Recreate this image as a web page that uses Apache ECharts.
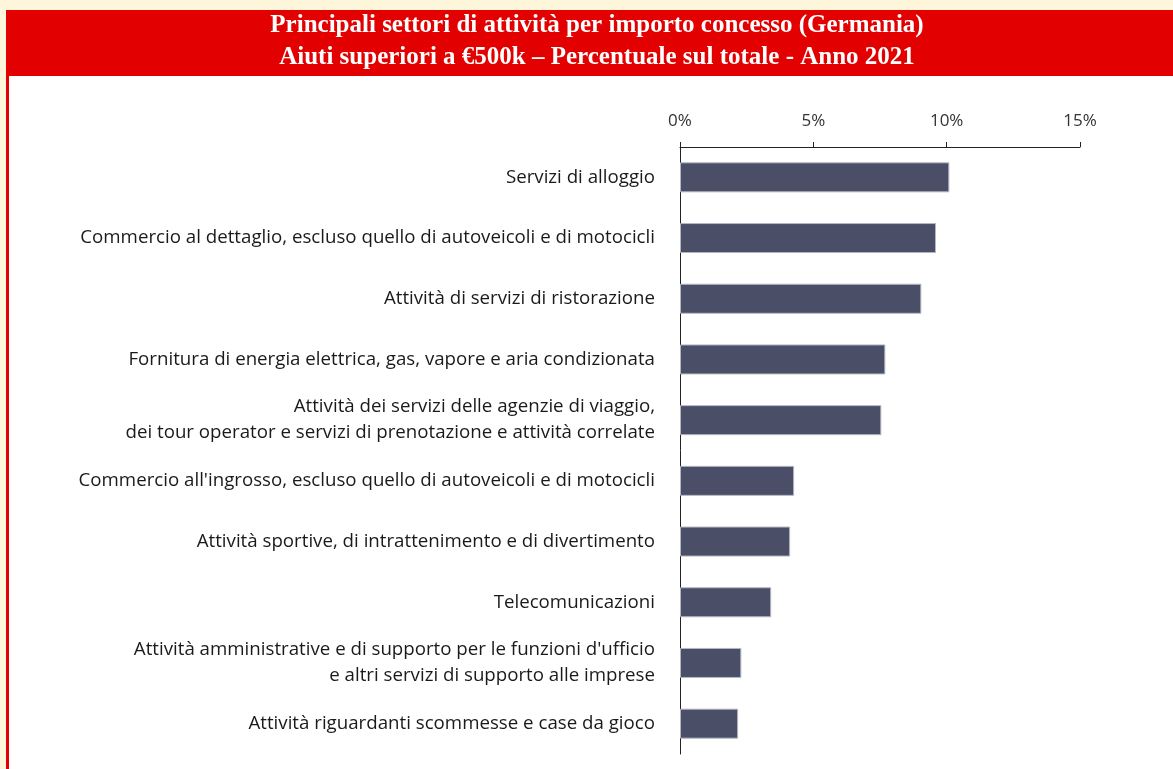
<!DOCTYPE html>
<html>
<head>
<meta charset="utf-8">
<script src="https://cdn.jsdelivr.net/npm/echarts@6/dist/echarts.min.js"></script>
<style>
  html, body { margin: 0; padding: 0; background: #fdf6da; }
  #main { width: 1173px; height: 769px; }
</style>
</head>
<body>
<div id="main"></div>
<script>
// settori (dall'alto verso il basso)
var settori = [
    'Servizi di alloggio',
    'Commercio al dettaglio, escluso quello di autoveicoli e di motocicli',
    'Attività di servizi di ristorazione',
    'Fornitura di energia elettrica, gas, vapore e aria condizionata',
    'Attività dei servizi delle agenzie di viaggio,\ndei tour operator e servizi di prenotazione e attività correlate',
    "Commercio all'ingrosso, escluso quello di autoveicoli e di motocicli",
    'Attività sportive, di intrattenimento e di divertimento',
    'Telecomunicazioni',
    "Attività amministrative e di supporto per le funzioni d'ufficio\ne altri servizi di supporto alle imprese",
    'Attività riguardanti scommesse e case da gioco'
];
// percentuale sul totale
var percentuali = [10.1, 9.6, 9.05, 7.7, 7.55, 4.28, 4.13, 3.42, 2.3, 2.18];
var tickAsse = [0, 5, 10, 15];

var myChart = echarts.init(document.getElementById('main'));

var option = {
    backgroundColor: '#fdf6da',
    animation: false,
    graphic: [
        // banda rossa del titolo
        { type: 'rect', shape: { x: 6, y: 10, width: 1167, height: 66 }, style: { fill: '#e30000' }, z: 0 },
        // bordo sinistro
        { type: 'rect', shape: { x: 6, y: 76, width: 3, height: 693 }, style: { fill: '#e30000' }, z: 0 },
        // pannello bianco
        { type: 'rect', shape: { x: 9, y: 76, width: 1164, height: 693 }, style: { fill: '#ffffff' }, z: 0 }
    ],
    title: {
        text: 'Principali settori di attività per importo concesso (Germania)\nAiuti superiori a €500k – Percentuale sul totale - Anno 2021',
        left: 592,
        textAlign: 'center',
        top: 5,
        textStyle: {
            color: '#ffffff',
            fontFamily: 'Liberation Serif',
            fontWeight: 'bold',
            fontSize: 25,
            lineHeight: 32
        }
    },
    grid: {
        left: 680,
        right: 93,
        top: 147,
        bottom: 15,
        containLabel: false
    },
    xAxis: {
        type: 'value',
        position: 'top',
        min: tickAsse[0],
        max: tickAsse[tickAsse.length - 1],
        interval: 5,
        axisLine: { show: true, lineStyle: { color: '#222', width: 1 } },
        axisTick: { show: true, length: 5, lineStyle: { color: '#222' } },
        splitLine: { show: false },
        axisLabel: {
            formatter: '{value}%',
            color: '#333',
            fontFamily: 'Open Sans',
            fontSize: 17,
            margin: 17
        }
    },
    yAxis: {
        type: 'category',
        inverse: true,
        data: settori,
        axisLine: { show: true, lineStyle: { color: '#222', width: 1 } },
        axisTick: { show: false },
        axisLabel: {
            color: '#1a1a1a',
            fontFamily: 'Open Sans',
            fontSize: 18.7,
            lineHeight: 26,
            margin: 25,
            align: 'right'
        }
    },
    series: [
        {
            name: 'Percentuale',
            type: 'bar',
            data: percentuali,
            barWidth: 30,
            itemStyle: {
                color: '#4a4e66',
                borderColor: '#b4b6c2',
                borderWidth: 1
            },
            z: 3
        }
    ]
};

myChart.setOption(option);
</script>
</body>
</html>
